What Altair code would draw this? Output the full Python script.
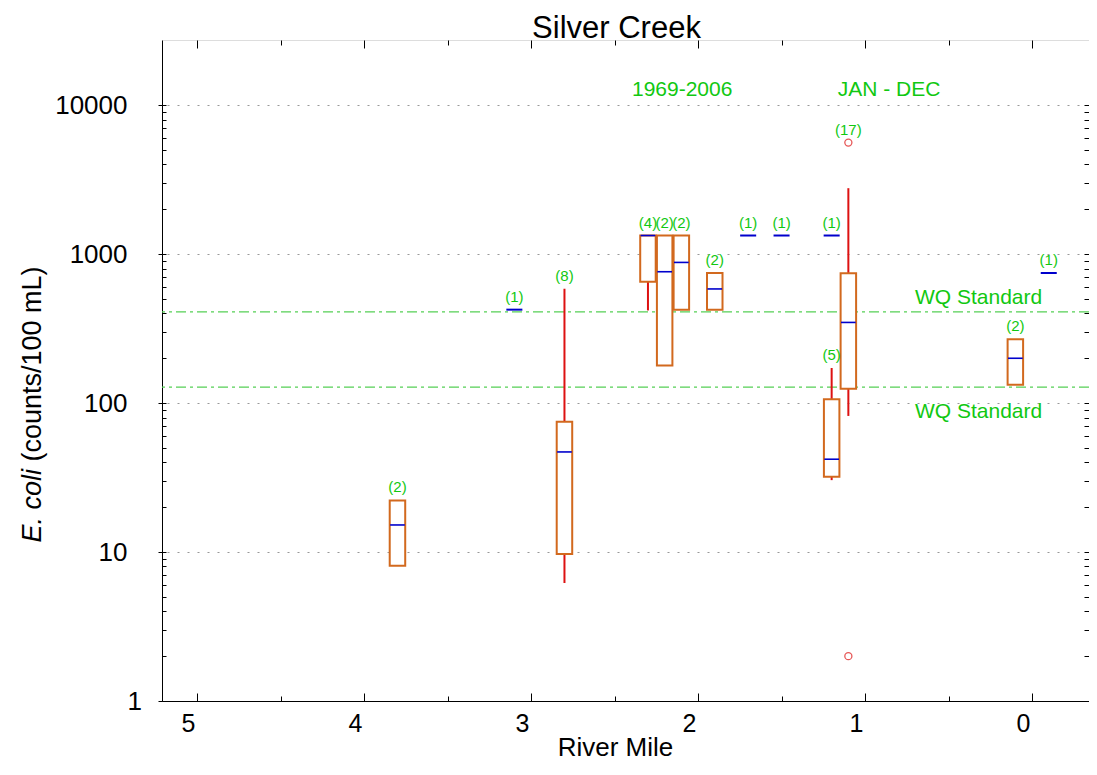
import altair as alt
import pandas as pd

FONT = "Liberation Sans"

# ---------------- data ----------------
river_mile   = [3.8, 3.1, 2.8, 2.3, 2.2, 2.1, 1.9, 1.7, 1.5, 1.2, 1.2, 1.1, 0.1, -0.1]
n_obs        = [2, 1, 8, 4, 2, 2, 2, 1, 1, 1, 5, 17, 2, 1]
whisker_low  = [None, None, 6.2, 419, None, None, None, None, None, None, 30.4, 82, None, None]
q1           = [8.1, None, 9.7, 653, 179, 424, 424, None, None, None, 32, 125, 133, None]
median       = [15.2, 424, 47, 1334, 762, 880, 584, 1334, 1334, 1334, 42, 348, 200, 747]
q3           = [22.2, None, 75, 1334, 1334, 1334, 747, None, None, None, 106, 743, 268, None]
whisker_high = [None, None, 586, None, None, None, None, None, None, None, 172, 2772, None, None]

outlier_mile  = [1.1, 1.1]
outlier_value = [5610, 2]

wq_standards = [410, 128]
wq_label_mile = 0.32
header_texts = ["1969-2006", "JAN - DEC"]
header_mile = [2.095, 0.856]
header_anchor = 10000

x_ticks = [0, 1, 2, 3, 4, 5]
x_half_ticks = [0.5, 1.5, 2.5, 3.5, 4.5]
y_ticks = [1, 10, 100, 1000, 10000]
y_minor = [k * 10 ** e for e in range(0, 4) for k in range(1, 10)] + [10000]

# ---------------- tables ----------------
st = pd.DataFrame({
    "mile": river_mile, "n": n_obs, "wlo": whisker_low, "q1": q1,
    "med": median, "q3": q3, "whi": whisker_high,
})
st["label"] = ["(%d)" % n for n in n_obs]
tops = []
for i, r in st.iterrows():
    vals = [v for v in (r["whi"], r["q3"], r["med"]) if pd.notna(v)]
    vals += [v for m, v in zip(outlier_mile, outlier_value) if m == r["mile"]]
    tops.append(max(vals))
st["top"] = tops

boxes = st[st["q1"].notna()].copy()
singles = st[st["q1"].isna()].copy()
wh = boxes[boxes["wlo"].notna() | boxes["whi"].notna()].copy()
wh["lo"] = wh["wlo"].fillna(wh["q1"])
wh["hi"] = wh["whi"].fillna(wh["q3"])
wh = wh[["mile", "lo", "hi"]]
boxes = boxes[["mile", "q1", "med", "q3"]]
singles = singles[["mile", "med"]]
labels = st[["mile", "top", "label"]]
outl = pd.DataFrame({"mile": outlier_mile, "value": outlier_value})
wq = pd.DataFrame({"value": wq_standards, "mile": [wq_label_mile] * len(wq_standards)})
hdr = pd.DataFrame({"text": header_texts, "mile": header_mile, "y": [header_anchor] * len(header_texts)})

# ---------------- scales & axes ----------------
xs = alt.Scale(domain=[-0.341, 5.21], reverse=True, nice=False, zero=False)
ys = alt.Scale(type="log", domain=[1, 27400], nice=False)

GREEN_TXT = "#11C811"
GREEN_LINE = "#55D055"
BOX = "#D2691E"
RED = "#DD1111"
BLUE = "#0000CC"

ax_x_main = alt.Axis(orient="bottom", values=x_ticks, format="d", ticks=False,
                     domainColor="black", labelFont=FONT, labelFontSize=25, labelColor="black",
                     labelPadding=10, labelOffset=-9, labelFlush=False, grid=False,
                     title="River Mile", titleFont=FONT, titleFontSize=26, titleFontWeight="normal",
                     titleColor="black", titleX=453, titleY=54, titleBaseline="alphabetic",
                     titleAlign="center")
ax_y_main = alt.Axis(orient="left", values=y_ticks, format="d", tickSize=4, tickColor="black",
                     domainColor="black", labelFont=FONT, labelFontSize=26, labelColor="black",
                     labelPadding=31,
                     labelAlign={"condition": {"test": "datum.value == 1", "value": "left"}, "value": "right"},
                     grid=True, gridColor="#999999", gridDash=[2, 8], gridWidth=1,
                     title="(counts/100 mL)", titleFont=FONT, titleFontSize=27, titleFontWeight="normal",
                     titleColor="black", titleX=-122, titleY=421, titleAngle=270,
                     titleAlign="left", titleBaseline="alphabetic")
ax_y_ecoli = alt.Axis(orient="left", labels=False, ticks=False, domain=False, grid=False,
                      title="E. coli", titleFont=FONT, titleFontSize=27, titleFontStyle="italic",
                      titleFontWeight="normal", titleColor="black", titleX=-122, titleY=502,
                      titleAngle=270, titleAlign="left", titleBaseline="alphabetic")
ax_y_in_left = alt.Axis(orient="left", values=y_minor, offset=-4, tickSize=4, tickColor="black",
                        labels=False, domain=False, grid=False, title=None)
ax_y_in_right = alt.Axis(orient="right", values=y_minor, offset=-5, tickSize=5, tickColor="black",
                         labels=False, domain=False, grid=False, title=None)
ax_x_in_bottom = alt.Axis(orient="bottom", values=x_ticks, offset=-8, tickSize=8, tickColor="black",
                          labels=False, domain=False, grid=False, title=None)
ax_x_half_bottom = alt.Axis(orient="bottom", values=x_half_ticks, offset=-5, tickSize=5, tickColor="black",
                            labels=False, domain=False, grid=False, title=None)
ax_x_in_top = alt.Axis(orient="top", values=x_ticks, offset=-8, tickSize=8, tickColor="black",
                       labels=False, domain=False, grid=False,
                       title="Silver Creek", titleFont=FONT, titleFontSize=31, titleFontWeight="normal",
                       titleColor="black", titleX=454, titleY=-11, titleAlign="center",
                       titleBaseline="alphabetic")
ax_x_half_top = alt.Axis(orient="top", values=x_half_ticks, offset=-5, tickSize=5, tickColor="black",
                         labels=False, domain=False, grid=False, title=None)

# ---------------- layers ----------------
ref_lines = alt.Chart(wq).mark_rule(color=GREEN_LINE, strokeWidth=1.3, strokeDash=[10, 4, 3, 4]).encode(
    y=alt.Y("value:Q", scale=ys, axis=None)
)

whiskers = alt.Chart(wh).mark_rule(color=RED, strokeWidth=2).encode(
    x=alt.X("mile:Q", scale=xs, axis=ax_x_main),
    y=alt.Y("lo:Q", scale=ys, axis=ax_y_main),
    y2="hi:Q",
)

box_rects = alt.Chart(boxes).transform_calculate(
    xl="datum.mile + 0.0464", xr="datum.mile - 0.0464"
).mark_rect(fill="white", stroke=BOX, strokeWidth=2).encode(
    x=alt.X("xl:Q", scale=xs, axis=ax_x_in_bottom),
    x2="xr:Q",
    y=alt.Y("q1:Q", scale=ys, axis=ax_y_in_left),
    y2="q3:Q",
)

medians = alt.Chart(boxes).transform_calculate(
    xl="datum.mile + 0.044", xr="datum.mile - 0.044"
).mark_rule(color=BLUE, strokeWidth=1.6).encode(
    x=alt.X("xl:Q", scale=xs, axis=ax_x_half_bottom),
    x2="xr:Q",
    y=alt.Y("med:Q", scale=ys, axis=ax_y_in_right),
)

single_lines = alt.Chart(singles).transform_calculate(
    xl="datum.mile + 0.048", xr="datum.mile - 0.048"
).mark_rule(color=BLUE, strokeWidth=2).encode(
    x=alt.X("xl:Q", scale=xs, axis=ax_x_in_top),
    x2="xr:Q",
    y=alt.Y("med:Q", scale=ys, axis=ax_y_ecoli),
)

outliers = alt.Chart(outl).mark_point(shape="circle", filled=False, color=RED, size=50, strokeWidth=1.3).encode(
    x=alt.X("mile:Q", scale=xs, axis=ax_x_half_top),
    y=alt.Y("value:Q", scale=ys, axis=None),
)

count_text = alt.Chart(labels).mark_text(font=FONT, fontSize=15, color=GREEN_TXT,
                                         baseline="bottom", dy=-5).encode(
    x=alt.X("mile:Q", scale=xs, axis=None),
    y=alt.Y("top:Q", scale=ys, axis=None),
    text="label:N",
)

wq_upper = alt.Chart(wq.iloc[[0]]).mark_text(font=FONT, fontSize=21, color=GREEN_TXT,
                                             baseline="alphabetic", dy=-8).encode(
    x=alt.X("mile:Q", scale=xs, axis=None),
    y=alt.Y("value:Q", scale=ys, axis=None),
    text=alt.value("WQ Standard"),
)
wq_lower = alt.Chart(wq.iloc[[1]]).mark_text(font=FONT, fontSize=21, color=GREEN_TXT,
                                             baseline="alphabetic", dy=31).encode(
    x=alt.X("mile:Q", scale=xs, axis=None),
    y=alt.Y("value:Q", scale=ys, axis=None),
    text=alt.value("WQ Standard"),
)

header = alt.Chart(hdr).mark_text(font=FONT, fontSize=21, color=GREEN_TXT,
                                  baseline="alphabetic", dy=-9).encode(
    x=alt.X("mile:Q", scale=xs, axis=None),
    y=alt.Y("y:Q", scale=ys, axis=None),
    text="text:N",
)

chart = alt.layer(
    ref_lines, whiskers, box_rects, medians, single_lines, outliers,
    count_text, wq_upper, wq_lower, header,
).resolve_axis(
    x="independent", y="independent"
).properties(
    width=927, height=661,
    autosize=alt.AutoSizeParams(type="none"),
    padding={"left": 154, "top": 32, "right": 0, "bottom": 60},
).configure_view(
    stroke="black", strokeWidth=1
).configure(background="white")

chart.save("out.html", embed_options={"renderer": "svg", "actions": False})
